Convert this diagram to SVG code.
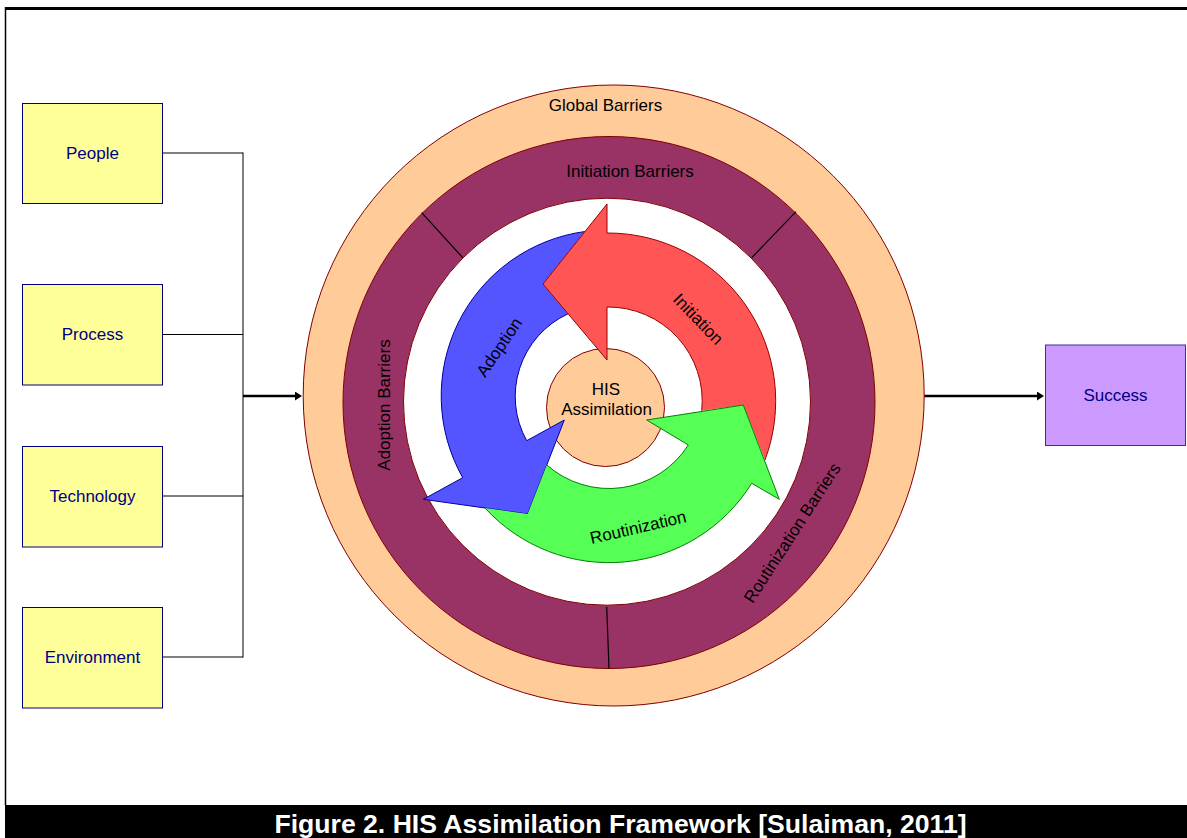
<svg xmlns="http://www.w3.org/2000/svg" width="1187" height="838" viewBox="0 0 1187 838">
<defs>
<style>
text{font-family:"Liberation Sans",Arial,Helvetica,sans-serif;font-size:17px;}
.box{stroke:#000080;stroke-width:1;}
.yl{fill:#FFFF99;}
.lbl{fill:#000080;text-anchor:middle;}
.blk{fill:#000;text-anchor:middle;}
.ring{stroke:#800000;stroke-width:1;}
.conn{stroke:#000;stroke-width:1;fill:none;}
.thick{stroke:#000;stroke-width:2.6;fill:none;}
.div{stroke:#000;stroke-width:1.2;}
</style>
<marker id="ah" markerUnits="userSpaceOnUse" markerWidth="8" markerHeight="10" refX="4" refY="4.5" orient="auto"><path d="M0,0 L7,4.5 L0,9 Z" fill="#000"/></marker>
</defs>
<rect width="1187" height="838" fill="#fff"/>
<g id="frame">
<path d="M5,8.5 H1187" stroke="#000" stroke-width="3"/>
<path d="M5.5,7 V805" stroke="#000" stroke-width="1.5"/>
</g>
<g id="connectors">
<path class="conn" d="M162.5,153 H243 M162.5,334.5 H243 M162.5,496 H243 M162.5,657 H243 M243,152.5 V657.5"/>
<path class="thick" d="M243,396 H299" marker-end="url(#ah)"/>
<path class="thick" d="M923,396 H1041" marker-end="url(#ah)"/>
</g>
<g id="people"><rect class="box yl" x="22.5" y="103.5" width="140" height="100"/><text class="lbl" x="92.5" y="159">People</text></g>
<g id="process"><rect class="box yl" x="22.5" y="284.5" width="140" height="100.5"/><text class="lbl" x="92.5" y="340">Process</text></g>
<g id="technology"><rect class="box yl" x="22.5" y="446.5" width="140" height="100.5"/><text class="lbl" x="92.5" y="502">Technology</text></g>
<g id="environment"><rect class="box yl" x="22.5" y="607.5" width="140" height="100.5"/><text class="lbl" x="92.5" y="663">Environment</text></g>
<g id="success"><rect x="1045.5" y="345" width="140" height="100.5" fill="#CC99FF" stroke="#333399" stroke-width="1"/><text class="lbl" x="1115.5" y="401">Success</text></g>
<g id="global-barriers">
<circle class="ring" cx="613.7" cy="395.5" r="310.5" fill="#FFCC99"/>
<text class="blk" x="605.5" y="111">Global Barriers</text>
</g>
<g id="barrier-ring">
<circle class="ring" cx="609" cy="402.5" r="266" fill="#993366"/>
<path class="div" d="M421.7,212.7 L463.3,258.3 M796,211.7 L751.7,257.7 M606.7,606.7 L609,668.3"/>
<circle class="ring" cx="607" cy="401.7" r="203.5" fill="#fff"/>
<text class="blk" x="630" y="177">Initiation Barriers</text>
<text class="blk" transform="translate(389.5,405) rotate(-90)">Adoption Barriers</text>
<text class="blk" transform="translate(797,536) rotate(-57)">Routinization Barriers</text>
</g>
<g id="his">
<circle class="ring" cx="605.5" cy="407.5" r="59" fill="#FFCC99"/>
</g>
<g id="adoption">
<path d="M585,231.5 A166,166 0 0 0 462.7,477.7 L423.3,499.3 L527.7,514 L564.3,420 L526.7,440.7 A91,91 0 0 1 568.1,313.8 L543,284 Z" fill="#5555FF"/>
<path d="M585,231.5 A166,166 0 0 0 462.7,477.7 L423.3,499.3 L527.7,514 L564.3,420 L526.7,440.7 A91,91 0 0 1 568.1,313.8" fill="none" stroke="#000099" stroke-width="1"/>
<text class="blk" transform="translate(504,350.4) rotate(-56)">Adoption</text>
</g>
<g id="initiation">
<path d="M765,460 A168,168 0 0 0 607,233 L607,204 L543,284 L607,360 L607,307 A94,94 0 0 1 701.7,410.7 L743.3,405 Z" fill="#FF5555"/>
<path d="M765,460 A168,168 0 0 0 607,233 L607,204 L543,284 L607,360 L607,307 A94,94 0 0 1 701.7,410.7" fill="none" stroke="#990000" stroke-width="1"/>
<text class="blk" transform="translate(694,323) rotate(46)">Initiation</text>
</g>
<g id="routinization">
<path d="M485,508 A168,168 0 0 0 751.7,483.3 L779.3,499.3 L743.3,405 L646.7,420 L688.3,445 A94,94 0 0 1 546.8,465 L527.7,514 Z" fill="#55FF55"/>
<path d="M485,508 A168,168 0 0 0 751.7,483.3 L779.3,499.3 L743.3,405 L646.7,420 L688.3,445 A94,94 0 0 1 546.8,465" fill="none" stroke="#008000" stroke-width="1"/>
<text class="blk" transform="translate(639.4,533) rotate(-13)">Routinization</text>
</g>
<g id="his-label">
<text class="blk" x="606" y="395">HIS</text>
<text class="blk" x="606.5" y="415">Assimilation</text>
</g>
<g id="caption">
<rect x="5" y="805" width="1182" height="33" fill="#000"/>
<text x="620.5" y="833" fill="#fff" text-anchor="middle" font-weight="bold" style="font-size:26.6px">Figure 2. HIS Assimilation Framework [Sulaiman, 2011]</text>
</g>
</svg>
